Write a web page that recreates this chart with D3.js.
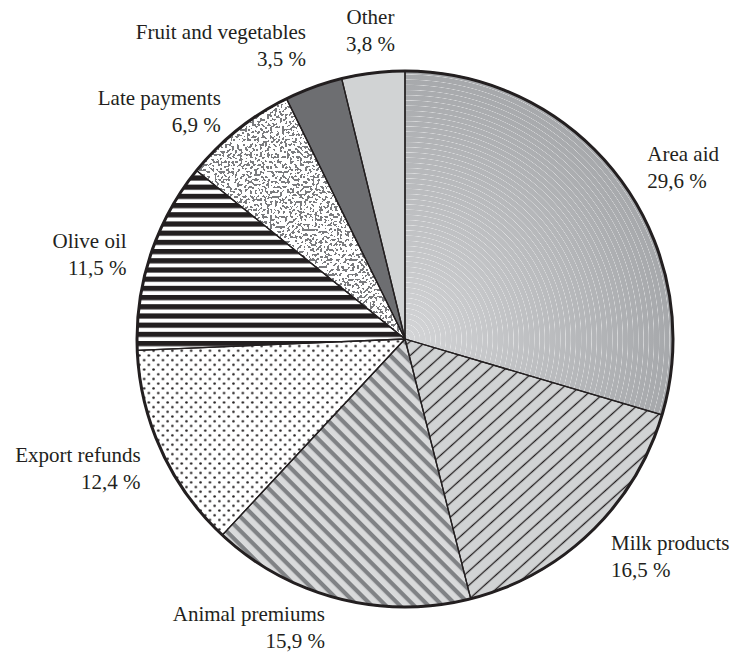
<!DOCTYPE html>
<html><head><meta charset="utf-8">
<script src="https://cdn.jsdelivr.net/npm/d3@7"></script>
<style>body{margin:0;background:#fff}svg{display:block}</style>
</head><body>
<script>
const categories = ["Area aid","Milk products","Animal premiums","Export refunds","Olive oil","Late payments","Fruit and vegetables","Other"];
const values = [29.6,16.5,15.9,12.4,11.5,6.9,3.5,3.8];
const valueLabels = ["29,6 %","16,5 %","15,9 %","12,4 %","11,5 %","6,9 %","3,5 %","3,8 %"];

const W = 731, H = 655, cx = 405, cy = 339, r = 268, labelR = 290;
const ink = "#231f20";
const fills = ["url(#areaGrad)","url(#milk)","url(#animal)","url(#dots)","url(#olive)","#ffffff","#6d6e71","#d1d3d4"];
const labelCfg = {
  "Area aid":{anchor:"start",dx:10,line:0,dy:-4},
  "Milk products":{anchor:"start",dx:5,line:0,dy:2},
  "Animal premiums":{anchor:"end",dx:-8,line:0,dy:1},
  "Export refunds":{anchor:"end",dx:-1,line:0,dy:2},
  "Olive oil":{anchor:"end",dx:-3,line:0,dy:0},
  "Late payments":{anchor:"end",dx:-3,line:0,dy:-8},
  "Fruit and vegetables":{anchor:"end",dx:0,line:1,dy:0},
  "Other":{anchor:"middle",dx:0,line:1,dy:0}
};

const svg = d3.select("body").append("svg").attr("width",W).attr("height",H);
const defs = svg.append("defs");

const g1 = defs.append("radialGradient").attr("id","areaGrad").attr("gradientUnits","userSpaceOnUse")
  .attr("cx",0).attr("cy",0).attr("r",r);
g1.append("stop").attr("offset",0).attr("stop-color","#d4d5d7");
g1.append("stop").attr("offset",1).attr("stop-color","#a6a8ab");
const g2 = defs.append("radialGradient").attr("id","rings").attr("gradientUnits","userSpaceOnUse")
  .attr("cx",0).attr("cy",0).attr("r",5.2).attr("spreadMethod","repeat");
g2.append("stop").attr("offset",0).attr("stop-color","#fff").attr("stop-opacity",0);
g2.append("stop").attr("offset",0.78).attr("stop-color","#fff").attr("stop-opacity",0);
g2.append("stop").attr("offset",0.88).attr("stop-color","#fff").attr("stop-opacity",0.5);
g2.append("stop").attr("offset",0.98).attr("stop-color","#fff").attr("stop-opacity",0);
g2.append("stop").attr("offset",1).attr("stop-color","#fff").attr("stop-opacity",0);

const pm = defs.append("pattern").attr("id","milk").attr("patternUnits","userSpaceOnUse")
  .attr("width",20).attr("height",10.5).attr("patternTransform","rotate(-42)");
pm.append("rect").attr("width",20).attr("height",10.5).attr("fill","#d1d3d4");
pm.append("rect").attr("y",4.6).attr("width",20).attr("height",1.3).attr("fill",ink);

const pa = defs.append("pattern").attr("id","animal").attr("patternUnits","userSpaceOnUse")
  .attr("width",20).attr("height",10).attr("patternTransform","rotate(45)");
pa.append("rect").attr("width",20).attr("height",10).attr("fill","#d9dadb");
pa.append("rect").attr("width",20).attr("height",4.2).attr("fill","#808285");

const pd = defs.append("pattern").attr("id","dots").attr("patternUnits","userSpaceOnUse")
  .attr("width",9.4).attr("height",9.4);
pd.append("rect").attr("width",9.4).attr("height",9.4).attr("fill","#fff");
pd.append("circle").attr("cx",2.35).attr("cy",2.35).attr("r",1.25).attr("fill",ink);
pd.append("circle").attr("cx",7.05).attr("cy",7.05).attr("r",1.25).attr("fill",ink);

const po = defs.append("pattern").attr("id","olive").attr("patternUnits","userSpaceOnUse")
  .attr("width",20).attr("height",9.2).attr("y",2);
po.append("rect").attr("width",20).attr("height",9.2).attr("fill","#fff");
po.append("rect").attr("width",20).attr("height",5.2).attr("fill",ink);

const f = defs.append("filter").attr("id","worms").attr("x",0).attr("y",0).attr("width",1).attr("height",1)
  .attr("color-interpolation-filters","sRGB");
f.append("feTurbulence").attr("type","fractalNoise").attr("baseFrequency",0.4).attr("numOctaves",1).attr("seed",11).attr("result","noise");
f.append("feColorMatrix").attr("in","noise").attr("type","matrix")
  .attr("values","0 0 0 0 0  0 0 0 0 0  0 0 0 0 0  1 0 0 0 0").attr("result","ra");
f.append("feComponentTransfer").attr("in","ra").attr("result","band")
  .append("feFuncA").attr("type","discrete").attr("tableValues","0 0 0 0 0 0 0 0 0 0 0 1 1 1 1 1 1 1 1 1");
f.append("feFlood").attr("flood-color","#7a7b7e").attr("result","col");
f.append("feComposite").attr("in","col").attr("in2","band").attr("operator","in").attr("result","w");
f.append("feComposite").attr("in","w").attr("in2","SourceAlpha").attr("operator","in").attr("result","wc");
const fm = f.append("feMerge");
fm.append("feMergeNode").attr("in","SourceGraphic");
fm.append("feMergeNode").attr("in","wc");

const data = categories.map((c,i)=>({cat:c, value:values[i], label:valueLabels[i], fill:fills[i]}));
const pie = d3.pie().sort(null).value(d=>d.value);
const arcs = pie(data);
const arc = d3.arc().innerRadius(0).outerRadius(r);
const labelArc = d3.arc().innerRadius(labelR).outerRadius(labelR);

const g = svg.append("g").attr("transform",`translate(${cx},${cy})`);
g.selectAll("path.slice").data(arcs).join("path").attr("class","slice")
  .attr("d",arc).attr("fill",d=>d.data.fill)
  .attr("filter",d=>d.data.cat==="Late payments"?"url(#worms)":null);
g.append("path").datum(arcs[0]).attr("d",arc).attr("fill","url(#rings)");
g.selectAll("path.edge").data(arcs).join("path").attr("class","edge")
  .attr("d",arc).attr("fill","none").attr("stroke",ink).attr("stroke-width",1.3).attr("stroke-linejoin","round");
g.append("circle").attr("r",r).attr("fill","none").attr("stroke",ink).attr("stroke-width",3);

const lg = svg.append("g").attr("transform",`translate(${cx},${cy})`)
  .attr("font-family","'Liberation Serif', 'Times New Roman', serif").attr("font-size",21).attr("fill",ink);
arcs.forEach(d=>{
  const cfg = labelCfg[d.data.cat];
  const [x,y] = labelArc.centroid(d);
  const lh = 27;
  const y0 = y + cfg.dy - cfg.line*lh;
  const t = lg.append("text").attr("text-anchor",cfg.anchor);
  t.append("tspan").attr("x",x+cfg.dx).attr("y",y0).text(d.data.cat);
  t.append("tspan").attr("x",x+cfg.dx).attr("y",y0+lh).text(d.data.label);
});
</script>
</body></html>
